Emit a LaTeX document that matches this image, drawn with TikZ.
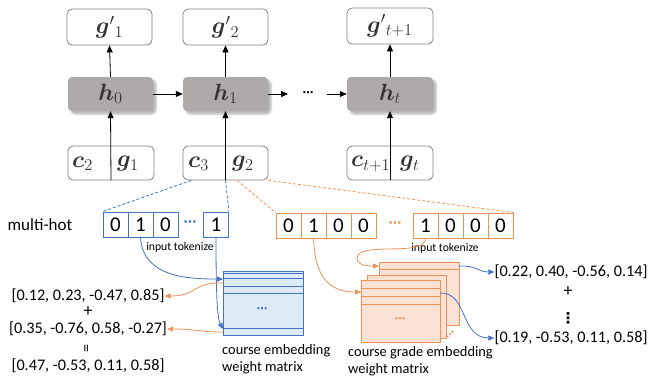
\RequirePackage{fix-cm}
\documentclass[tikz,border=0pt]{standalone}
\usepackage{fontspec}
\setmainfont{Carlito}
\newfontfamily\djv{DejaVu Sans}
\usepackage{bm}
\usetikzlibrary{arrows.meta,calc,shadows.blur}
\definecolor{boxgray}{RGB}{128,128,128}
\definecolor{hgray}{RGB}{174,170,170}
\definecolor{mtext}{RGB}{50,50,50}
\definecolor{cblue}{RGB}{68,114,196}
\definecolor{bfill}{RGB}{221,235,247}
\definecolor{corange}{RGB}{240,146,84}
\definecolor{ofill}{RGB}{251,226,212}
\begin{document}
\begin{tikzpicture}[x=1pt,y=-1pt,
  topbox/.style={draw=boxgray, rounded corners=5pt, minimum width=85pt, minimum height=36pt, line width=0.8pt, inner sep=0pt},
  hbox/.style={fill=hgray, rounded corners=4pt, minimum width=85pt, minimum height=34pt, inner sep=0pt,
    blur shadow={shadow xshift=3pt, shadow yshift=-3pt, shadow opacity=30, shadow blur steps=6}},
  inbox/.style={draw=boxgray, rounded corners=5pt, minimum width=86pt, minimum height=34pt, line width=0.8pt, inner sep=0pt},
  mlbl/.style={text=mtext, font=\fontsize{23.5}{25}\selectfont, inner sep=0pt},
  arr/.style={-{Triangle[length=7pt,width=6pt]}, line width=0.8pt},
  carr/.style={-{Triangle[length=6pt,width=5pt]}, line width=0.8pt},
  bcell/.style={draw=cblue, line width=0.9pt, minimum width=25pt, minimum height=25pt, inner sep=0pt, fill=white, font=\fontsize{21}{23}\selectfont},
  ocell/.style={draw=corange, line width=0.9pt, minimum width=25pt, minimum height=25pt, inner sep=0pt, fill=white, font=\fontsize{21}{23}\selectfont},
  bdash/.style={draw=cblue, dash pattern=on 3pt off 2pt, line width=0.8pt},
  odash/.style={draw=corange, dash pattern=on 3pt off 2pt, line width=0.8pt},
  vec/.style={font=\fontsize{16.2}{18}\selectfont, inner sep=0pt},
  small/.style={font=\fontsize{11.7}{13}\selectfont, inner sep=0pt},
  lbl/.style={font=\fontsize{14.4}{17}\selectfont, align=left, inner sep=0pt},
  dots/.style={font=\djv\bfseries\fontsize{13}{14}\selectfont, inner sep=0pt},
  bmat/.style={draw=cblue, fill=bfill, line width=0.9pt, inner sep=0pt},
  omat/.style={draw=corange, fill=ofill, line width=0.9pt, inner sep=0pt}
]
\useasboundingbox (0,0) rectangle (652,381);

% ---------- RNN part ----------
\node[topbox] (gp1) at (109.5,27) {};
\node[topbox] (gp2) at (225.5,27) {};
\node[topbox, minimum width=86pt] (gp3) at (390,26) {};
\node[mlbl] (gp1t) at (gp1) {$\bm{g}'{}_1$};
\node[mlbl] (gp2t) at (gp2) {$\bm{g}'{}_2$};
\node[mlbl] (gp3t) at (gp3) {$\bm{g}'{}_{t+1}$};

\node[hbox] (h0) at (110.5,94) {};
\node[hbox] (h1) at (225.5,94) {};
\node[hbox, minimum width=86pt] (ht) at (390,94) {};
\node[mlbl] (h0t) at (h0) {$\bm{h}_0$};
\node[mlbl] (h1t) at (h1) {$\bm{h}_1$};
\node[mlbl] (htt) at (ht) {$\bm{h}_t$};

\node[inbox] (in1) at (111,163) {};
\node[inbox, minimum width=85pt] (in2) at (225.5,163) {};
\node[inbox] (in3) at (390,163) {};
\node[mlbl, anchor=west] (c2) at (72,164) {$\bm{c}_2$};
\node[mlbl, anchor=west] (g1) at (117,164) {$\bm{g}_1$};
\node[mlbl, anchor=west] (c3) at (188,164) {$\bm{c}_3$};
\node[mlbl, anchor=west] (g2) at (232,164) {$\bm{g}_2$};
\node[mlbl, anchor=west] (c4) at (351,164) {$\bm{c}_{t+1}$};
\node[mlbl, anchor=west] (g4) at (400,164) {$\bm{g}_t$};

\draw[arr] (in1.south) -- (h0.south);
\draw[arr] (in2.south) -- (h1.south);
\draw[arr] (in3.south) -- (ht.south);
\draw[arr] (h0.north) -- (gp1.south);
\draw[arr] (h1.north) -- (gp2.south);
\draw[arr] (ht.north) -- (gp3.south);
\draw[arr] (h0.east) -- (h1.west);
\coordinate (r1) at (288,94);
\coordinate (r2) at (327,94);
\node[dots, font=\djv\bfseries\fontsize{11}{12}\selectfont] (hd) at (308,94) {⋯};
\draw[arr] (h1.east) -- (r1);
\draw[arr] (r2) -- (ht.west);

% ---------- multi-hot ----------
\node[font=\fontsize{17}{19}\selectfont, inner sep=0pt] (mh) at (40,225) {multi-hot};
\node[bcell] (b1) at (115.5,224.5) {0};
\node[bcell] (b2) at (140.5,224.5) {1};
\node[bcell] (b3) at (165.5,224.5) {0};
\node[dots, text=cblue] (bd) at (190,224) {⋯};
\node[bcell] (b4) at (216,224.5) {1};

\node[ocell] (o1) at (288.5,225.5) {0};
\node[ocell] (o2) at (313.5,225.5) {1};
\node[ocell] (o3) at (338.5,225.5) {0};
\node[ocell] (o4) at (363.5,225.5) {0};
\node[dots, text=corange] (od) at (395,225) {⋯};
\node[ocell] (o5) at (425.5,225.5) {1};
\node[ocell] (o6) at (450.5,225.5) {0};
\node[ocell] (o7) at (475.5,225.5) {0};
\node[ocell] (o8) at (500.5,225.5) {0};

\draw[bdash] ($(in2.south west)!0.1!(in2.south east)$) -- (b1.north west);
\draw[bdash] (in2.south) -- (b4.north east);
\draw[odash] ($(in2.south)!0.27!(in2.south east)$) -- (o1.north west);
\draw[odash] (in2.south east) -- (o8.north east);

\node[small] (it1) at (180,247) {input tokenize};
\node[small] (it2) at (445,248) {input tokenize};

% ---------- course embedding matrix ----------
\node[bmat, minimum width=80pt, minimum height=64pt] (bm) at (263,303) {};
\foreach \yy in {273,278,286.5,293,328} \draw[cblue, line width=0.8pt] (223,\yy) -- (303,\yy);
\node[dots, text=cblue, font=\djv\bfseries\fontsize{11}{12}\selectfont] (bmd) at (262,310) {⋯};
\node[lbl, anchor=north west] (bml) at (222,344) {course embedding\\weight matrix};

\coordinate (bin1) at (223,279);
\coordinate (bin2) at (223,329);
\coordinate (bout1) at (223,283);
\coordinate (bout2) at (223,332);

\node[vec] (v1) at (88,296) {[0.12, 0.23, -0.47, 0.85]};
\node[vec, font=\fontsize{18}{20}\selectfont] (p1) at (88,312) {+};
\node[vec] (v2) at (88,329) {[0.35, -0.76, 0.58, -0.27]};
\node[vec, rotate=90] (eq) at (88,348) {=};
\node[vec] (v3) at (88,366) {[0.47, -0.53, 0.11, 0.58]};

\draw[carr, cblue] (b2.south) .. controls (143,278) and (190,279) .. (bin1);
\draw[carr, cblue] (b4.south) .. controls (216,290) and (217,318) .. (bin2);
\draw[carr, corange] (bout1) .. controls (192,282) and (198,296) .. (v1.east);
\draw[carr, corange] (bout2) .. controls (200,332) and (195,329) .. (v2.east);

% ---------- course grade embedding matrices ----------
\node[omat, minimum width=80pt, minimum height=63pt] (om3) at (419,293.5) {};
\draw[corange, line width=0.8pt] (379,269) -- (459,269);
\node[omat, minimum width=79pt, minimum height=63pt] (om2) at (406.5,306.5) {};
\node[omat, minimum width=79pt, minimum height=62pt] (om1) at (400.5,311) {};
\foreach \yy in {288,296,304} \draw[corange, line width=0.8pt] (361,\yy) -- (440,\yy);
\node[dots, text=corange, font=\djv\bfseries\fontsize{11}{12}\selectfont] (omd) at (400,320) {⋯};
\node[dots, text=corange, font=\djv\bfseries\fontsize{10}{12}\selectfont, rotate=45] (omd2) at (451,335) {⋯};
\node[lbl, anchor=north west] (oml) at (348,346) {course grade embedding\\weight matrix};

\coordinate (oin1) at (361,292);
\coordinate (oin2) at (379,266);
\coordinate (oout1) at (459,266);
\coordinate (oout2) at (440,293);
\coordinate (oloop) at (357,259);

\node[vec] (v4) at (571,272) {[0.22, 0.40, -0.56, 0.14]};
\node[vec, font=\fontsize{18}{20}\selectfont] (p2) at (568,292) {+};
\node[dots, font=\djv\bfseries\fontsize{15}{16}\selectfont] (vd) at (568,318) {⋮};
\node[vec] (v5) at (571,338) {[0.19, -0.53, 0.11, 0.58]};

\draw[carr, corange] (o2.south) .. controls (315,278) and (330,292) .. (oin1);
\draw[line width=0.8pt, corange] (o5.south) .. controls (425,258) and (356,240) .. (oloop);
\draw[carr, corange] (oloop) .. controls (358,266) and (370,266) .. (oin2);
\draw[carr, cblue] (oout1) .. controls (476,265) and (478,272) .. (v4.west);
\draw[carr, cblue] (oout2) .. controls (468,292) and (460,338) .. (v5.west);
\end{tikzpicture}
\end{document}
